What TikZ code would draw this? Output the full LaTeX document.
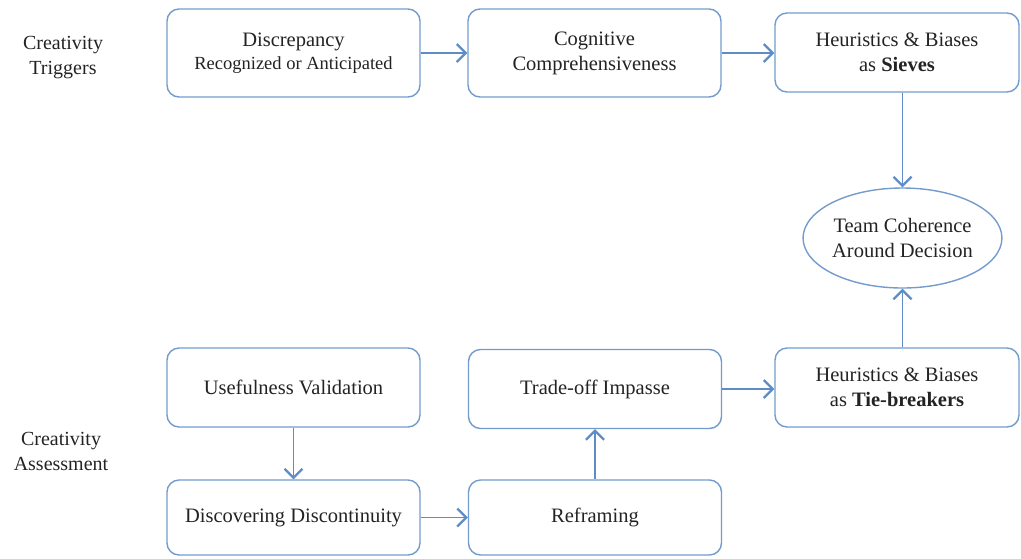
\documentclass[tikz,border=0pt]{standalone}
\usepackage{fontspec}
\setmainfont{LiberationSerif}[Extension=.ttf, UprightFont=*-Regular, BoldFont=*-Bold, ItalicFont=*-Italic, BoldItalicFont=*-BoldItalic]
\usetikzlibrary{arrows.meta,shapes.geometric}
\definecolor{bordercol}{RGB}{115,155,205}
\definecolor{arrowcol}{RGB}{95,140,198}
\definecolor{textcol}{RGB}{35,35,35}
\tikzset{
  box/.style={draw=bordercol, line width=1.4pt, rounded corners=12pt, align=center,
    inner sep=0pt, text=textcol, font=\fontsize{20.5}{25}\selectfont},
  oval/.style={draw=bordercol, line width=1.4pt, ellipse, align=center, inner sep=0pt,
    text=textcol, font=\fontsize{20.5}{25}\selectfont},
  sidelabel/.style={align=center, text=textcol, font=\fontsize{20}{25}\selectfont},
  conn/.style={draw=arrowcol, line width=1.8pt,
    -{Straight Barb[length=9pt,width=18pt,line width=2.2pt]}}
}
\begin{document}
\begin{tikzpicture}[x=1pt,y=-1pt]
\useasboundingbox (0,0) rectangle (1021,558);
% side labels
\node[sidelabel] (trig) at (63,58) {Creativity\\Triggers};
\node[sidelabel] (assess) at (61,451) {Creativity\\Assessment};
% top row
\node[box, minimum width=253pt, minimum height=88pt] (disc) at (293.5,53)
  {Discrepancy\\[-2pt]{\fontsize{18.5}{22}\selectfont Recognized or Anticipated}};
\node[box, minimum width=253pt, minimum height=88pt] (cog) at (594.5,53)
  {Cognitive\\Comprehensiveness};
\node[box, minimum width=244pt, minimum height=79pt] (sieve) at (897,52.5)
  {Heuristics \& Biases\\as \textbf{Sieves}};
% ellipse
\node[oval, minimum width=195pt, minimum height=100pt] (team) at (902.5,238)
  {Team Coherence\\Around Decision};
% lower rows
\node[box, minimum width=253pt, minimum height=79pt] (useful) at (293.5,387.5)
  {Usefulness Validation};
\node[box, minimum width=253pt, minimum height=79pt] (trade) at (595,389)
  {Trade-off Impasse};
\node[box, minimum width=244pt, minimum height=79pt] (tie) at (897,387.5)
  {Heuristics \& Biases\\as \textbf{Tie-breakers}};
\node[box, minimum width=253pt, minimum height=75pt] (disco) at (293.5,517.5)
  {Discovering Discontinuity};
\node[box, minimum width=253pt, minimum height=75pt] (refr) at (595,517.5)
  {Reframing};
% connectors
\draw[conn] (disc.east) -- (cog.west);
\draw[conn] (cog.east) -- (cog.east -| sieve.west);
\draw[conn] (sieve.south -| team.north) -- (team.north);
\draw[conn] (tie.north -| team.south) -- (team.south);
\draw[conn] (trade.east) -- (trade.east -| tie.west);
\draw[conn] (useful.south) -- (disco.north);
\draw[conn] (disco.east) -- (disco.east -| refr.west);
\draw[conn] (refr.north) -- (trade.south);
\end{tikzpicture}
\end{document}
